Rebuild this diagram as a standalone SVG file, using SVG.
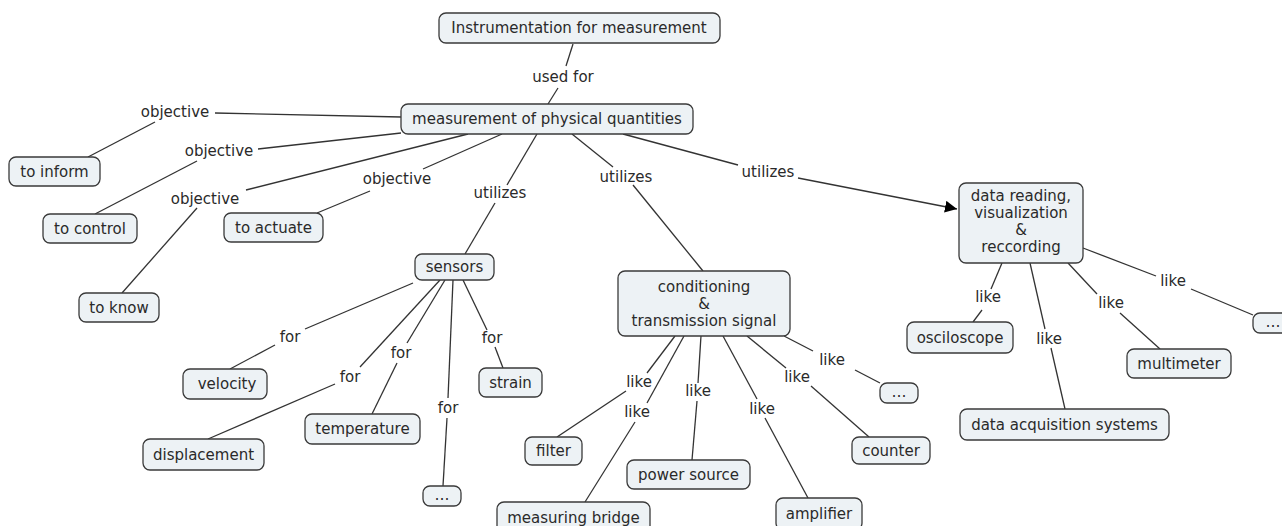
<svg xmlns="http://www.w3.org/2000/svg" width="1282" height="526" viewBox="0 0 1282 526">
<defs>
<style>
.n rect{fill:#edf2f5;stroke:#3a3a3a;stroke-width:1.3}
text{font-family:"DejaVu Sans",Verdana,sans-serif;font-size:15px;fill:#2a2a2a;text-anchor:middle}
.c line{stroke:#333;stroke-width:1.3}
</style>
<marker id="ah" viewBox="0 0 10 10" refX="10" refY="5" markerWidth="12" markerHeight="12" markerUnits="userSpaceOnUse" orient="auto"><path d="M0,0 L10,5 L0,10 z" fill="#000"/></marker>
</defs>
<rect width="1282" height="526" fill="#fff"/>
<g class="c" id="connectors">
<line x1="573" y1="44" x2="566" y2="66"/><text x="563" y="82">used for</text><line x1="558" y1="88" x2="548" y2="104"/>
<line x1="401" y1="117" x2="215" y2="113"/><text x="175" y="117">objective</text><line x1="155" y1="122" x2="88" y2="157"/>
<line x1="401" y1="133" x2="258" y2="149"/><text x="219" y="156">objective</text><line x1="197" y1="161" x2="95" y2="214"/>
<line x1="468" y1="134" x2="246" y2="190"/><text x="205" y="204">objective</text><line x1="197" y1="208" x2="122" y2="293"/>
<line x1="502" y1="134" x2="423" y2="169"/><text x="397" y="184">objective</text><line x1="370" y1="191" x2="317" y2="213"/>
<line x1="537" y1="134" x2="507" y2="185"/><text x="500" y="198">utilizes</text><line x1="495" y1="203" x2="465" y2="254"/>
<line x1="572" y1="134" x2="613" y2="167"/><text x="626" y="182">utilizes</text><line x1="633" y1="185" x2="703" y2="271"/>
<line x1="623" y1="134" x2="738" y2="165"/><text x="768" y="177">utilizes</text><line x1="798" y1="178" x2="957" y2="209" marker-end="url(#ah)"/>
<line x1="413" y1="283" x2="305" y2="329"/><text x="290" y="342">for</text><line x1="275" y1="345" x2="230" y2="369"/>
<line x1="440" y1="280" x2="360" y2="367"/><text x="350" y="382">for</text><line x1="335" y1="384" x2="208" y2="439"/>
<line x1="445" y1="280" x2="407" y2="343"/><text x="401" y="358">for</text><line x1="397" y1="363" x2="372" y2="414"/>
<line x1="453" y1="280" x2="448" y2="398"/><text x="448" y="413">for</text><line x1="447" y1="418" x2="443" y2="486"/>
<line x1="463" y1="280" x2="487" y2="330"/><text x="492" y="343">for</text><line x1="495" y1="347" x2="503" y2="368"/>
<line x1="675" y1="336" x2="647" y2="373"/><text x="639" y="387">like</text><line x1="626" y1="391" x2="557" y2="437"/>
<line x1="684" y1="336" x2="647" y2="403"/><text x="637" y="417">like</text><line x1="635" y1="422" x2="585" y2="502"/>
<line x1="701" y1="336" x2="698" y2="383"/><text x="698" y="396">like</text><line x1="697" y1="401" x2="692" y2="460"/>
<line x1="723" y1="336" x2="757" y2="399"/><text x="762" y="414">like</text><line x1="765" y1="418" x2="808" y2="498"/>
<line x1="747" y1="336" x2="786" y2="368"/><text x="797" y="382">like</text><line x1="811" y1="386" x2="869" y2="437"/>
<line x1="784" y1="336" x2="813" y2="351"/><text x="832" y="365">like</text><line x1="855" y1="370" x2="880" y2="383"/>
<line x1="1002" y1="263" x2="991" y2="289"/><text x="988" y="302">like</text><line x1="982" y1="310" x2="973" y2="322"/>
<line x1="1030" y1="263" x2="1045" y2="329"/><text x="1049" y="344">like</text><line x1="1051" y1="348" x2="1065" y2="409"/>
<line x1="1068" y1="263" x2="1097" y2="294"/><text x="1111" y="308">like</text><line x1="1120" y1="313" x2="1160" y2="349"/>
<line x1="1083" y1="248" x2="1156" y2="276"/><text x="1173" y="286">like</text><line x1="1191" y1="289" x2="1253" y2="315"/>
</g>
<g class="n" id="n-instr"><rect x="439" y="13" width="281" height="30" rx="7"/><text x="579" y="33">Instrumentation for measurement</text></g>
<g class="n" id="n-meas"><rect x="401" y="104" width="292" height="30" rx="7"/><text x="547" y="124">measurement of physical quantities</text></g>
<g class="n" id="n-inform"><rect x="9" y="157" width="91" height="29" rx="7"/><text x="54.5" y="177">to inform</text></g>
<g class="n" id="n-control"><rect x="43" y="214" width="94" height="29" rx="7"/><text x="90" y="234">to control</text></g>
<g class="n" id="n-know"><rect x="79" y="293" width="80" height="29" rx="7"/><text x="119" y="313">to know</text></g>
<g class="n" id="n-actuate"><rect x="224" y="213" width="99" height="29" rx="7"/><text x="273.5" y="233">to actuate</text></g>
<g class="n" id="n-sensors"><rect x="415" y="254" width="79" height="26" rx="7"/><text x="454.5" y="272">sensors</text></g>
<g class="n" id="n-velocity"><rect x="183" y="369" width="84" height="30" rx="7"/><text x="227" y="389">velocity</text></g>
<g class="n" id="n-displacement"><rect x="143" y="439" width="121" height="31" rx="7"/><text x="203.5" y="460">displacement</text></g>
<g class="n" id="n-temperature"><rect x="305" y="414" width="115" height="30" rx="7"/><text x="362.5" y="434">temperature</text></g>
<g class="n" id="n-strain"><rect x="479" y="368" width="63" height="29" rx="7"/><text x="510.5" y="388">strain</text></g>
<g class="n" id="n-etc1"><rect x="423" y="486" width="38" height="20" rx="7"/><text x="442" y="500">…</text></g>
<g class="n" id="n-cond"><rect x="618" y="271" width="172" height="65" rx="7"/><text x="704" y="292">conditioning</text><text x="704" y="309">&amp;</text><text x="704" y="326">transmission signal</text></g>
<g class="n" id="n-filter"><rect x="525" y="437" width="57" height="28" rx="7"/><text x="553.5" y="456">filter</text></g>
<g class="n" id="n-power"><rect x="627" y="460" width="123" height="29" rx="7"/><text x="688.5" y="480">power source</text></g>
<g class="n" id="n-bridge"><rect x="497" y="502" width="153" height="32" rx="7"/><text x="573.5" y="523">measuring bridge</text></g>
<g class="n" id="n-amplifier"><rect x="776" y="498" width="86" height="32" rx="7"/><text x="819" y="519">amplifier</text></g>
<g class="n" id="n-counter"><rect x="852" y="437" width="78" height="27" rx="7"/><text x="891" y="456">counter</text></g>
<g class="n" id="n-etc2"><rect x="880" y="383" width="38" height="20" rx="7"/><text x="899" y="397">…</text></g>
<g class="n" id="n-data"><rect x="959" y="183" width="124" height="80" rx="7"/><text x="1021" y="201">data reading,</text><text x="1021" y="218">visualization</text><text x="1021" y="235">&amp;</text><text x="1021" y="252">reccording</text></g>
<g class="n" id="n-osc"><rect x="907" y="322" width="106" height="31" rx="7"/><text x="960" y="343">osciloscope</text></g>
<g class="n" id="n-daq"><rect x="960" y="409" width="209" height="31" rx="7"/><text x="1064.5" y="430">data acquisition systems</text></g>
<g class="n" id="n-multi"><rect x="1127" y="349" width="104" height="29" rx="7"/><text x="1179" y="369">multimeter</text></g>
<g class="n" id="n-etc3"><rect x="1253" y="313" width="40" height="20" rx="7"/><text x="1273" y="327">…</text></g>
</svg>
